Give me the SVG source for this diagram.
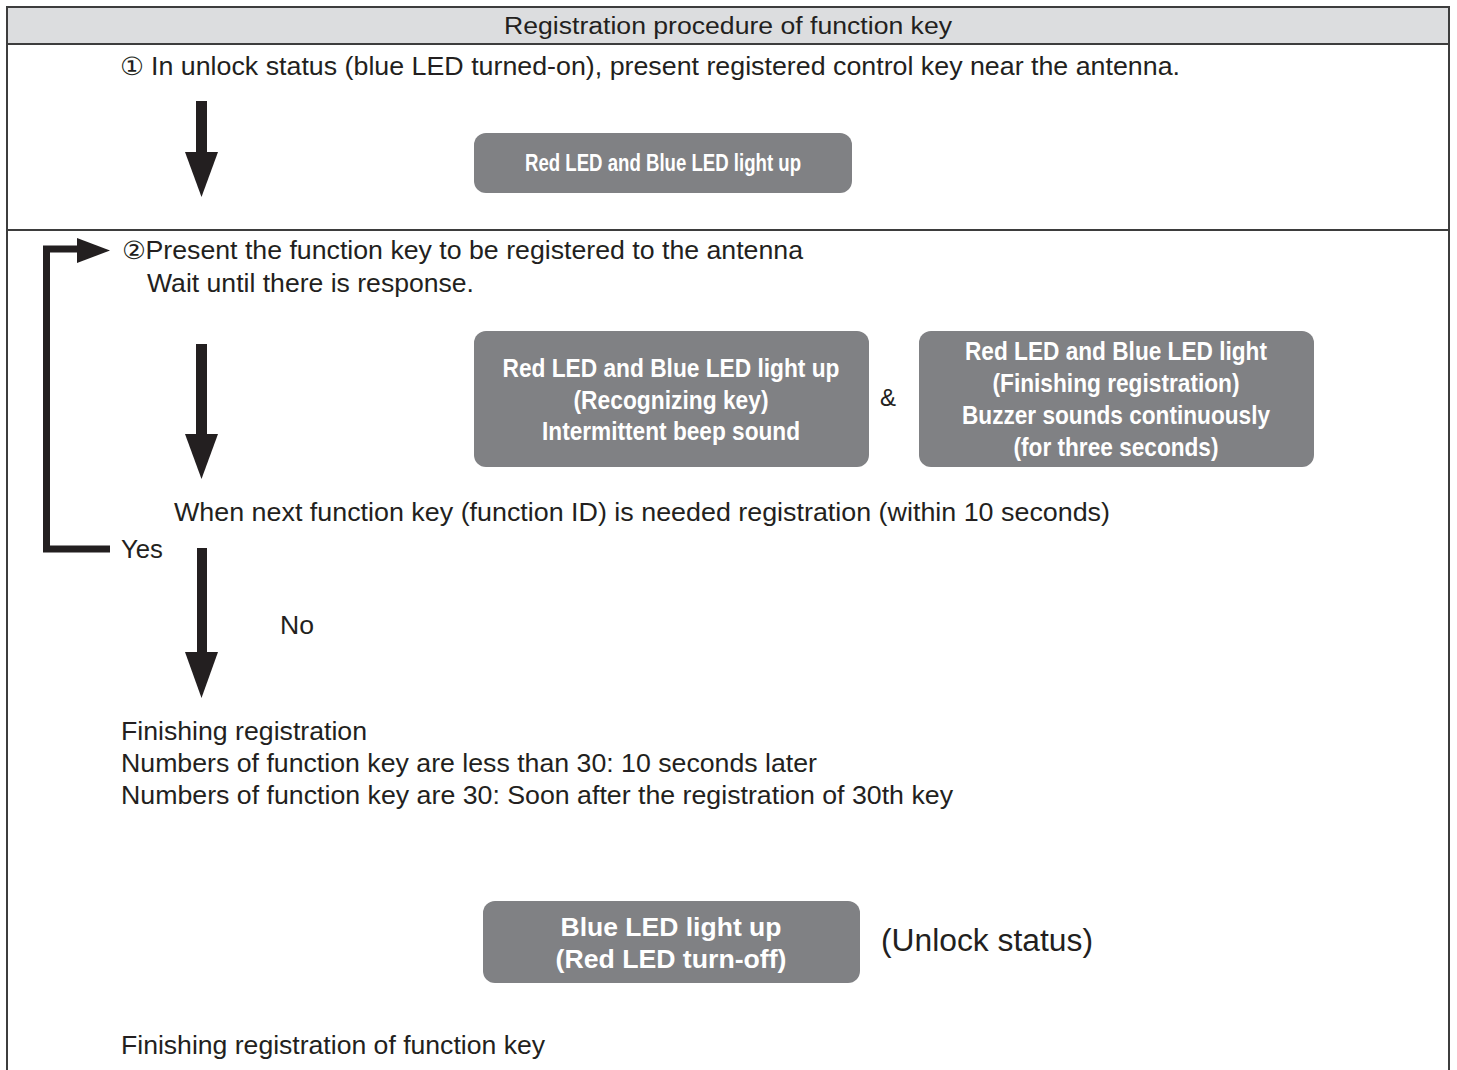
<svg xmlns="http://www.w3.org/2000/svg" width="1457" height="1070" viewBox="0 0 1457 1070">
<style>
.t{font-family:"Liberation Sans",Arial,Helvetica,sans-serif;fill:#231f20;}
.b{font-family:"Liberation Sans Narrow","Liberation Sans",Arial,sans-serif;font-weight:bold;fill:#ffffff;text-anchor:middle;}
.box{fill:#808184;}
.frame{stroke:#3d3d3d;stroke-width:2;fill:none;}
.ar{fill:#231f20;}
</style>
<rect width="1457" height="1070" fill="#ffffff"/>
<g id="frame">
<rect x="7" y="7" width="1442" height="37" fill="#dcdddf"/>
<path class="frame" d="M7,1072 V7 H1449 V1072"/>
<line class="frame" x1="7" y1="44" x2="1449" y2="44"/>
<line class="frame" x1="7" y1="230" x2="1449" y2="230"/>
<text class="t" x="728" y="34" font-size="23" text-anchor="middle" textLength="448" lengthAdjust="spacingAndGlyphs">Registration procedure of function key</text>
</g>
<g id="step1">
<text class="t" x="120" y="75" font-size="25" textLength="1060" lengthAdjust="spacingAndGlyphs">① In unlock status (blue LED turned-on), present registered control key near the antenna.</text>
</g>
<g id="box1">
<rect class="box" x="474" y="133" width="378" height="60" rx="12"/>
<text class="b" x="663" y="171" font-size="24" textLength="276" lengthAdjust="spacingAndGlyphs">Red LED and Blue LED light up</text>
</g>
<g id="step2">
<text class="t" x="122" y="259" font-size="25" textLength="681" lengthAdjust="spacingAndGlyphs">②Present the function key to be registered to the antenna</text>
<text class="t" x="147" y="292" font-size="25" textLength="327" lengthAdjust="spacingAndGlyphs">Wait until there is response.</text>
</g>
<g id="box2">
<rect class="box" x="474" y="331" width="395" height="136" rx="12"/>
<text class="b" x="671" y="377" font-size="25" textLength="337" lengthAdjust="spacingAndGlyphs">Red LED and Blue LED light up</text>
<text class="b" x="671" y="409" font-size="25" textLength="195" lengthAdjust="spacingAndGlyphs">(Recognizing key)</text>
<text class="b" x="671" y="440" font-size="25" textLength="258" lengthAdjust="spacingAndGlyphs">Intermittent beep sound</text>
</g>
<g id="amp">
<text class="t" x="888" y="406" font-size="24" text-anchor="middle">&amp;</text>
</g>
<g id="box3">
<rect class="box" x="919" y="331" width="395" height="136" rx="12"/>
<text class="b" x="1116" y="360" font-size="25" textLength="302" lengthAdjust="spacingAndGlyphs">Red LED and Blue LED light</text>
<text class="b" x="1116" y="392" font-size="25" textLength="247" lengthAdjust="spacingAndGlyphs">(Finishing registration)</text>
<text class="b" x="1116" y="424" font-size="25" textLength="308" lengthAdjust="spacingAndGlyphs">Buzzer sounds continuously</text>
<text class="b" x="1116" y="456" font-size="25" textLength="205" lengthAdjust="spacingAndGlyphs">(for three seconds)</text>
</g>
<g id="decision">
<text class="t" x="174" y="521" font-size="25" textLength="936" lengthAdjust="spacingAndGlyphs">When next function key (function ID) is needed registration  (within 10 seconds)</text>
<text class="t" x="121" y="558" font-size="25" textLength="42" lengthAdjust="spacingAndGlyphs">Yes</text>
<text class="t" x="280" y="634" font-size="25" textLength="34" lengthAdjust="spacingAndGlyphs">No</text>
</g>
<g id="finish">
<text class="t" x="121" y="740" font-size="25" textLength="246" lengthAdjust="spacingAndGlyphs">Finishing registration</text>
<text class="t" x="121" y="772" font-size="25" textLength="696" lengthAdjust="spacingAndGlyphs">Numbers of function key are less than 30: 10 seconds later</text>
<text class="t" x="121" y="804" font-size="25" textLength="832" lengthAdjust="spacingAndGlyphs">Numbers of function key are 30: Soon after the registration of 30th key</text>
</g>
<g id="box4">
<rect class="box" x="483" y="901" width="377" height="82" rx="12"/>
<text class="b" x="671" y="936" font-size="25" textLength="221" lengthAdjust="spacingAndGlyphs">Blue LED light up</text>
<text class="b" x="671" y="968" font-size="25" textLength="231" lengthAdjust="spacingAndGlyphs">(Red LED turn-off)</text>
</g>
<g id="unlock">
<text class="t" x="881" y="951" font-size="31" textLength="212" lengthAdjust="spacingAndGlyphs">(Unlock status)</text>
</g>
<g id="end">
<text class="t" x="121" y="1054" font-size="25" textLength="424" lengthAdjust="spacingAndGlyphs">Finishing registration of function key</text>
</g>
<g id="connectors">
<rect class="ar" x="196" y="101" width="11" height="52"/>
<polygon class="ar" points="185,152 218,152 201.5,197"/>
<rect class="ar" x="196" y="344" width="11" height="91"/>
<polygon class="ar" points="185,434 218,434 201.5,479"/>
<rect class="ar" x="197" y="548" width="10" height="105"/>
<polygon class="ar" points="185,652 218,652 201.5,698"/>
<polyline points="110,549 46.5,549 46.5,249 80,249" fill="none" stroke="#231f20" stroke-width="7"/>
<polygon class="ar" points="77,238 110,250.5 77,263"/>
</g>
</svg>
